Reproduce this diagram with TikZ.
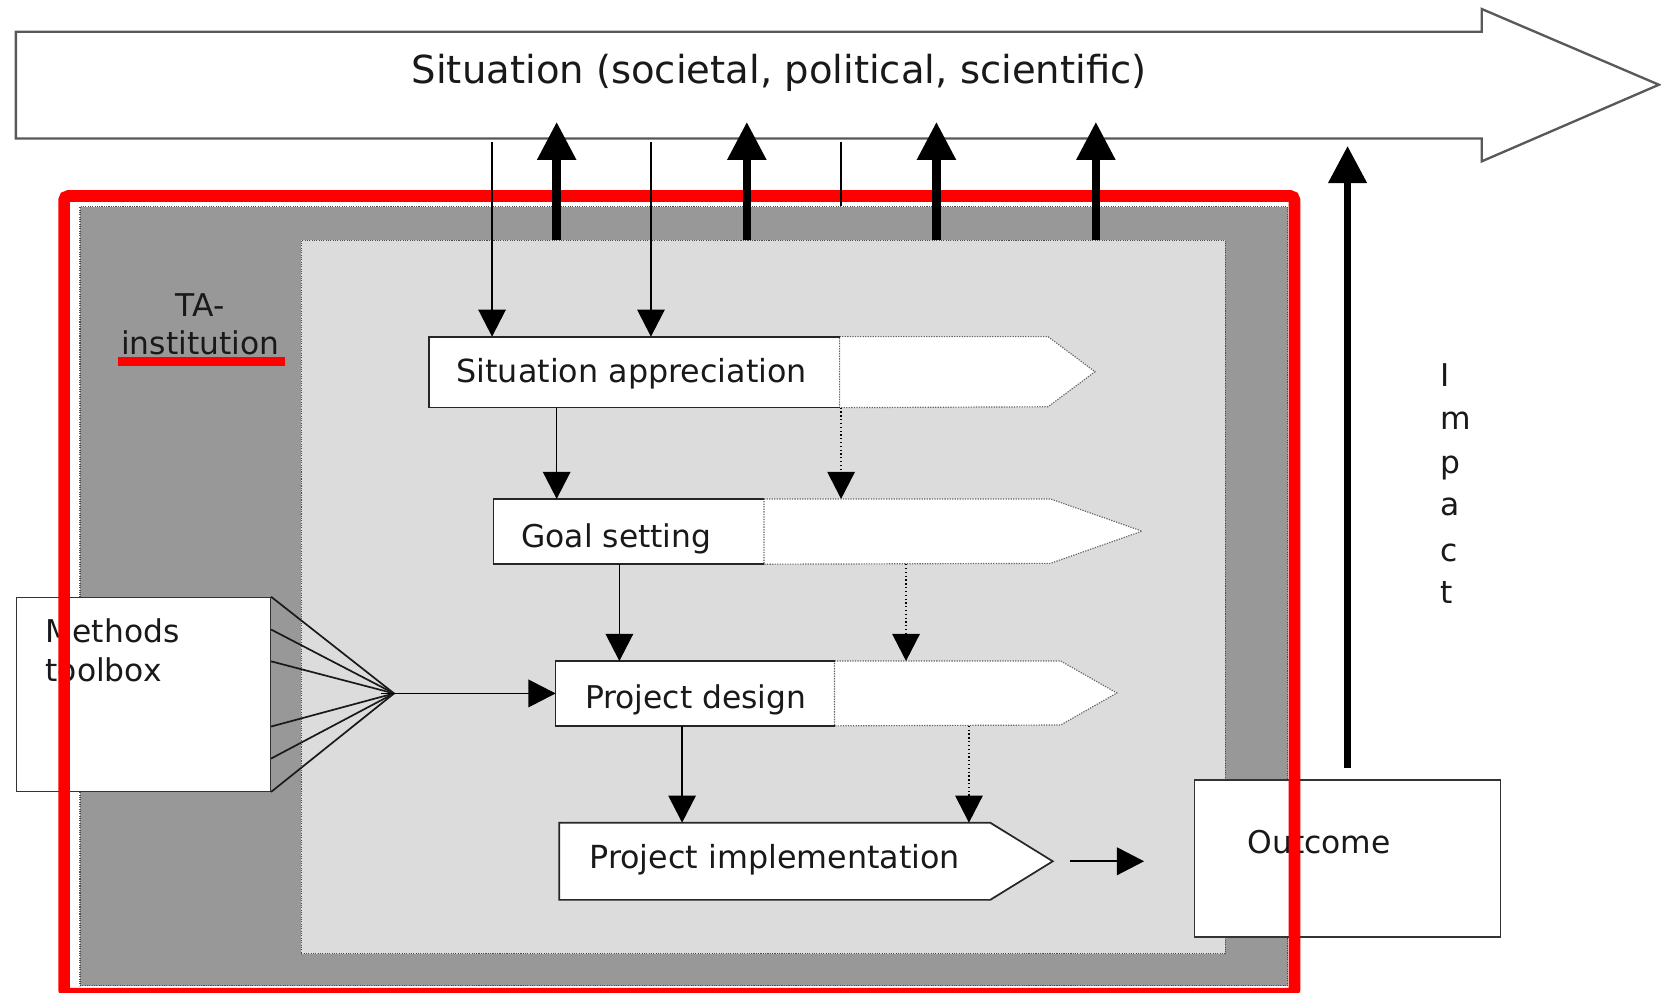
\documentclass[tikz,border=0pt]{standalone}
\usepackage{fontspec}
\setmainfont{DejaVu Sans}
\usetikzlibrary{arrows.meta,calc}
\definecolor{tagray}{RGB}{152,152,152}
\definecolor{innergray}{RGB}{220,220,220}
\definecolor{framered}{RGB}{255,0,0}
\definecolor{inkc}{RGB}{25,25,25}
\newcommand{\lft}[2]{\makebox[#1][l]{#2}}
\begin{document}
\begin{tikzpicture}[x=0.5pt,y=-0.5pt,
  txt/.style={font=\fontsize{14.8}{18.4}\selectfont, text=inkc, inner sep=0pt},
  bigarrowline/.style={draw=black!65, line width=1.1pt, fill=white, line join=miter},
  tabox/.style={fill=tagray, draw=black!70, line width=0.5pt, dash pattern=on 0.5pt off 0.6pt, inner sep=0pt, anchor=north west},
  innerbox/.style={fill=innergray, draw=black!70, line width=0.5pt, dash pattern=on 0.5pt off 0.6pt, inner sep=0pt, anchor=north west},
  stepbox/.style={txt, fill=white, anchor=north west, inner ysep=0pt},
  solidedge/.style={draw=black!85, line width=0.8pt},
  extshape/.style={fill=white, draw=black!60, line width=0.55pt, dash pattern=on 0.6pt off 0.6pt},
  plainbox/.style={fill=white, draw=black!80, line width=0.6pt, anchor=north west},
  thinline/.style={draw=black, line width=0.65pt},
  thinarrow/.style={thinline, -{Triangle[width=13pt,length=12.8pt]}},
  dotarrow/.style={thinarrow, dash pattern=on 0.6pt off 1.2pt},
  thickarrow/.style={draw=black, line width=4pt, -{Triangle[width=17.5pt,length=18pt]}},
  impactarrow/.style={draw=black, line width=3.4pt, -{Triangle[width=17.5pt,length=17.5pt]}},
  fanline/.style={draw=black!90, line width=0.8pt},
  redframe/.style={draw=framered, line width=5.5pt, rounded corners=2pt},
]
\useasboundingbox (0,0) rectangle (1568,937);
\fill[white] (0,0) rectangle (1568,937);

% big situation arrow
\node[inner sep=0pt, minimum width=691.5pt, minimum height=50pt, anchor=north west] (sitbar) at (15,30) {};
\draw[bigarrowline] (sitbar.north west) -- (sitbar.north east) -- ++(0,-21.5) -- (1566,80)
  -- ($(sitbar.south east)+(0,21.5)$) -- (sitbar.south east) -- (sitbar.south west) -- cycle;
\node[txt, font=\fontsize{18.2}{22}\selectfont, anchor=base] (title) at (735.5,78.6) {Situation (societal, political, scientific)};

% TA institution and inner area
\node[tabox, minimum width=570pt, minimum height=367.75pt] (ta) at (75,194.5) {};
\node[innerbox, minimum width=436pt, minimum height=336.75pt] (inner) at (284,226.5) {};
\node[txt, anchor=base] (talabelA) at (189,299) {TA-};
\node[txt, anchor=base] (talabelB) at (189,335) {institution};

% methods toolbox
\node[plainbox, inner sep=0pt, minimum width=119.75pt, minimum height=91.55pt] (methods) at (15.2,563.3) {};
\node[txt, anchor=base west] (methodsA) at (42.6,606.7) {Methods};
\node[txt, anchor=base west] (methodsB) at (42.6,643.5) {toolbox};

% step boxes
\node[stepbox, font=\fontsize{15}{18.4}\selectfont, inner xsep=12.75pt, minimum width=193.4pt, minimum height=33.1pt, text height=12pt, text depth=2.6pt] (sa) at (405,317.8) {\lft{167.9pt}{Situation appreciation}};
\draw[extshape] (sa.north east) -- (989.3,317.8) -- (1033.7,350.9) -- (989.3,384) -- (sa.south east) -- cycle;
\draw[solidedge] (sa.north east) -- (sa.north west) -- (sa.south west) -- (sa.south east);

\node[stepbox, inner xsep=13pt, minimum width=127.3pt, minimum height=30.4pt, text height=17pt, text depth=2.4pt] (goal) at (465.8,471) {\lft{101.3pt}{Goal setting}};
\draw[extshape] (goal.north east) -- (991.7,471) -- (1078,501.4) -- (991.7,531.8) -- (goal.south east) -- cycle;
\draw[solidedge] (goal.north east) -- (goal.north west) -- (goal.south west) -- (goal.south east);

\node[stepbox, inner xsep=13.75pt, minimum width=131.25pt, minimum height=30.2pt, text height=17pt, text depth=2.5pt] (pd) at (524.5,624) {\lft{103.75pt}{Project design}};
\draw[extshape] (pd.north east) -- (1001.3,624) -- (1054.3,654.2) -- (1001.3,684.4) -- (pd.south east) -- cycle;
\draw[solidedge] (pd.north east) -- (pd.north west) -- (pd.south west) -- (pd.south east);

\node[stepbox, font=\fontsize{15}{18}\selectfont, inner xsep=14pt, minimum width=203pt, minimum height=36.05pt, text height=10pt, text depth=2.9pt] (impl) at (528,776.6) {\lft{175pt}{Project implementation}};
\coordinate (impltip) at ($(impl.east)+(59,0)$);
\fill[white] ($(impl.north east)+(-3,0)$) -- (impltip) -- ($(impl.south east)+(-3,0)$) -- cycle;
\draw[solidedge, line join=miter] (impl.north west) -- (impl.north east) -- (impltip) -- (impl.south east) -- (impl.south west) -- cycle;

% outcome
\node[plainbox, txt, inner xsep=25pt, inner ysep=0pt, minimum width=144.5pt, minimum height=74.15pt, text height=11pt, text depth=15.85pt] (outcome) at (1127,735.7) {\lft{94.5pt}{Outcome}};

% impact text
\foreach \ch/\yy [count=\i] in {I/364.4, m/405.3, p/446.7, a/487, c/530, t/569.5}
  \node[txt, anchor=base west] (imp\i) at (1359.5,\yy) {\ch};

% red highlight
\draw[redframe] (60.5,185) rectangle (1222,938);
\draw[draw=framered, line width=4pt] (111.3,341.3) -- (269,341.3);

% connectors from the situation arrow
\coordinate (d1) at (464.5,134);
\coordinate (d2) at (614.5,134);
\coordinate (d3) at (794,134);
\draw[thinarrow] (d1) -- (d1 |- sa.north);
\draw[thinarrow] (d2) -- (d2 |- sa.north);
\draw[thinline] (d3) -- (d3 |- ta.north);
\foreach \xx [count=\i] in {525.5,705,884,1034.5} {
  \coordinate (u\i) at (\xx,115);
  \draw[thickarrow] (u\i |- inner.north) -- (u\i);
}

% step-to-step arrows
\coordinate (xa) at (525.5,0);
\coordinate (xb) at (794,0);
\coordinate (xc) at (584.7,0);
\coordinate (xd) at (855.3,0);
\coordinate (xe) at (643.9,0);
\coordinate (xf) at (914.7,0);
\draw[thinarrow] (sa.south -| xa) -- (goal.north -| xa);
\draw[dotarrow] (sa.south -| xb) -- (goal.north -| xb);
\draw[thinarrow] (goal.south -| xc) -- (pd.north -| xc);
\draw[dotarrow] (goal.south -| xd) -- (pd.north -| xd);
\draw[thinarrow] (pd.south -| xe) -- (impl.north -| xe);
\draw[dotarrow] (pd.south -| xf) -- (impl.north -| xf);

% methods fan
\coordinate (fx) at (372,0);
\coordinate (fan) at (pd.west -| fx);
\foreach \f in {0,0.168,0.331,0.665,0.829,1}
  \draw[fanline] ($(methods.north east)!\f!(methods.south east)$) -- (fan);
\draw[thinarrow] ($(fan)+(-12,0)$) -- (pd.west);

% implementation to outcome, impact
\draw[thinarrow, line width=1pt, shorten <=8pt, shorten >=23.5pt] (impltip) -- (impltip -| outcome.west);
\draw[impactarrow, shorten <=5.3pt, shorten >=3.5pt] (outcome.north) -- (outcome.north |- sitbar.south);
\end{tikzpicture}
\end{document}
